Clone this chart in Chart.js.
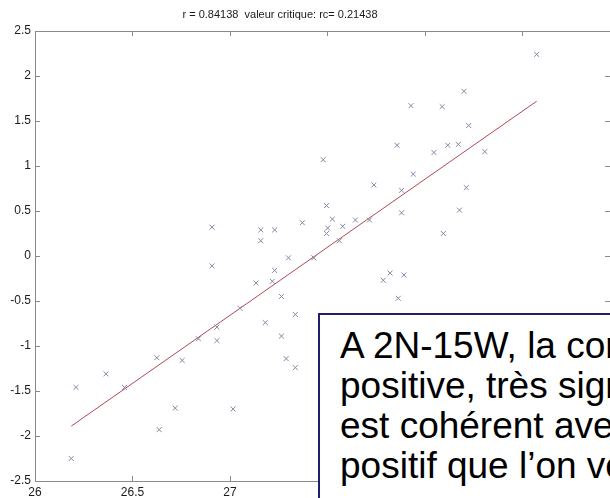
<!DOCTYPE html>
<html>
<head>
<meta charset="utf-8">
<script src="https://cdn.jsdelivr.net/npm/chart.js@4.4.1/dist/chart.umd.min.js"></script>
<style>
  html, body { margin: 0; padding: 0; background: #fff; }
  body { width: 610px; height: 498px; overflow: hidden; position: relative; }
  #wrap { position: absolute; left: 0; top: 0; width: 620px; height: 498px; }
  #note {
    position: absolute; left: 318px; top: 313px; width: 420px; height: 260px;
    box-sizing: border-box; border: 2px solid #1f1f6e; background: #fff;
    padding: 11px 0 0 20px; color: #000; white-space: nowrap;
    font: 37px "Liberation Sans", Arial, sans-serif; line-height: 40px;
  }
</style>
</head>
<body>
<div id="wrap"><canvas id="chart" width="620" height="498"></canvas></div>
<div id="note">A 2N-15W, la corrélation<br>positive, très significative<br>est cohérent avec<br>positif que l’on voit</div>
<script>
// scatter values
const xValues = [
  26.186, 26.210, 26.364, 26.459, 26.625, 26.637, 26.719, 26.755, 26.838, 26.908,
  26.933, 26.933, 27.016, 27.051, 27.134, 27.181, 27.217, 27.229, 27.264, 27.264,
  27.288, 27.300, 27.335, 27.335, 27.430, 26.908, 27.158, 27.158, 27.229, 27.371,
  28.573, 28.200, 27.928, 28.088, 28.224, 27.857, 28.117, 28.171, 28.046, 28.307,
  27.478, 27.940, 27.738, 28.212, 27.880, 27.495, 28.177, 27.880, 27.525, 27.501,
  27.495, 27.578, 27.643, 27.715, 27.561, 28.094, 27.786, 27.821, 27.892, 27.863
];
const yValues = [
  -2.25, -1.46, -1.31, -1.46, -1.13, -1.93, -1.69, -1.16, -0.92, -0.11,
  -0.79, -0.94, -1.70, -0.58, -0.30, -0.74, -0.28, -0.16, -0.45, -0.89,
  -1.14, -0.02, -0.65, -1.24, -0.02, 0.32, 0.29, 0.17, 0.29, 0.37,
  2.24, 1.83, 1.67, 1.66, 1.45, 1.23, 1.23, 1.24, 1.15, 1.16,
  1.07, 0.91, 0.79, 0.76, 0.73, 0.56, 0.51, 0.48, 0.41, 0.31,
  0.25, 0.33, 0.40, 0.40, 0.17, 0.25, -0.27, -0.19, -0.21, -0.47
];
// regression line end points
const fitX = [26.186, 28.573];
const fitY = [-1.89, 1.72];

const xTickValues = [26, 26.5, 27, 27.5, 28, 28.5];
// labels past 27 sit under the text box in the picture
const xTickLabels = ['26', '26.5', '27', '', '', ''];
const yTickValues = [-2.5, -2, -1.5, -1, -0.5, 0, 0.5, 1, 1.5, 2, 2.5];
const yTickLabels = ['-2.5', '-2', '-1.5', '-1', '-0.5', '0', '0.5', '1', '1.5', '2', '2.5'];

const titleText = 'r = 0.84138  valeur critique: rc= 0.21438';

const FONT = '"Liberation Sans", Arial, sans-serif';
const AXIS_COLOR = '#8a8a8a';

// box round the axes with inward ticks, like matlab
const matlabAxes = {
  id: 'matlabAxes',
  afterDatasetsDraw(chart) {
    const { ctx, chartArea: a, scales: { x, y } } = chart;
    ctx.save();
    ctx.strokeStyle = AXIS_COLOR;
    ctx.lineWidth = 1;
    ctx.strokeRect(a.left + 0.5, a.top + 0.5, a.right - a.left, a.bottom - a.top);
    ctx.beginPath();
    xTickValues.forEach(v => {
      const px = Math.round(x.getPixelForValue(v)) + 0.5;
      ctx.moveTo(px, a.bottom); ctx.lineTo(px, a.bottom - 5);
      ctx.moveTo(px, a.top); ctx.lineTo(px, a.top + 5);
    });
    yTickValues.forEach(v => {
      const py = Math.round(y.getPixelForValue(v)) + 0.5;
      ctx.moveTo(a.left, py); ctx.lineTo(a.left + 5, py);
      ctx.moveTo(a.right, py); ctx.lineTo(a.right - 6, py);
    });
    ctx.stroke();
    // title (sits left of centre in the original)
    ctx.fillStyle = '#1a1a1a';
    ctx.font = '11px ' + FONT;
    ctx.textAlign = 'center';
    ctx.textBaseline = 'alphabetic';
    ctx.fillText(titleText, 280, 18);
    ctx.restore();
  }
};

const ctx = document.getElementById('chart').getContext('2d');
new Chart(ctx, {
  type: 'scatter',
  data: {
    datasets: [
      {
        data: xValues.map((v, i) => ({ x: v, y: yValues[i] })),
        pointStyle: 'crossRot',
        pointRadius: 3.5,
        pointBorderColor: '#8585a5',
        pointBorderWidth: 1,
        showLine: false
      },
      {
        data: fitX.map((v, i) => ({ x: v, y: fitY[i] })),
        showLine: true,
        borderColor: '#b04858',
        borderWidth: 1,
        pointRadius: 0
      }
    ]
  },
  options: {
    responsive: false,
    animation: false,
    layout: { padding: { top: 31, right: 9, left: 0, bottom: 0 } },
    plugins: { legend: { display: false }, tooltip: { enabled: false } },
    scales: {
      x: {
        type: 'linear',
        min: 26,
        max: 28.954,
        grid: { display: false, drawTicks: false },
        border: { display: false },
        afterBuildTicks: s => { s.ticks = xTickValues.map(v => ({ value: v })); },
        afterFit: s => { s.height = 17; },
        ticks: {
          padding: 4,
          maxRotation: 0,
          autoSkip: false,
          color: '#1a1a1a',
          font: { family: FONT, size: 12 },
          callback: (v, i) => xTickLabels[i]
        }
      },
      y: {
        type: 'linear',
        min: -2.5,
        max: 2.5,
        grid: { display: false, drawTicks: false },
        border: { display: false },
        afterBuildTicks: s => { s.ticks = yTickValues.map(v => ({ value: v })); },
        afterFit: s => { s.width = 35; },
        ticks: {
          padding: 4,
          autoSkip: false,
          color: '#1a1a1a',
          font: { family: FONT, size: 12 },
          callback: (v, i) => yTickLabels[i]
        }
      }
    }
  },
  plugins: [matlabAxes]
});
</script>
</body>
</html>
